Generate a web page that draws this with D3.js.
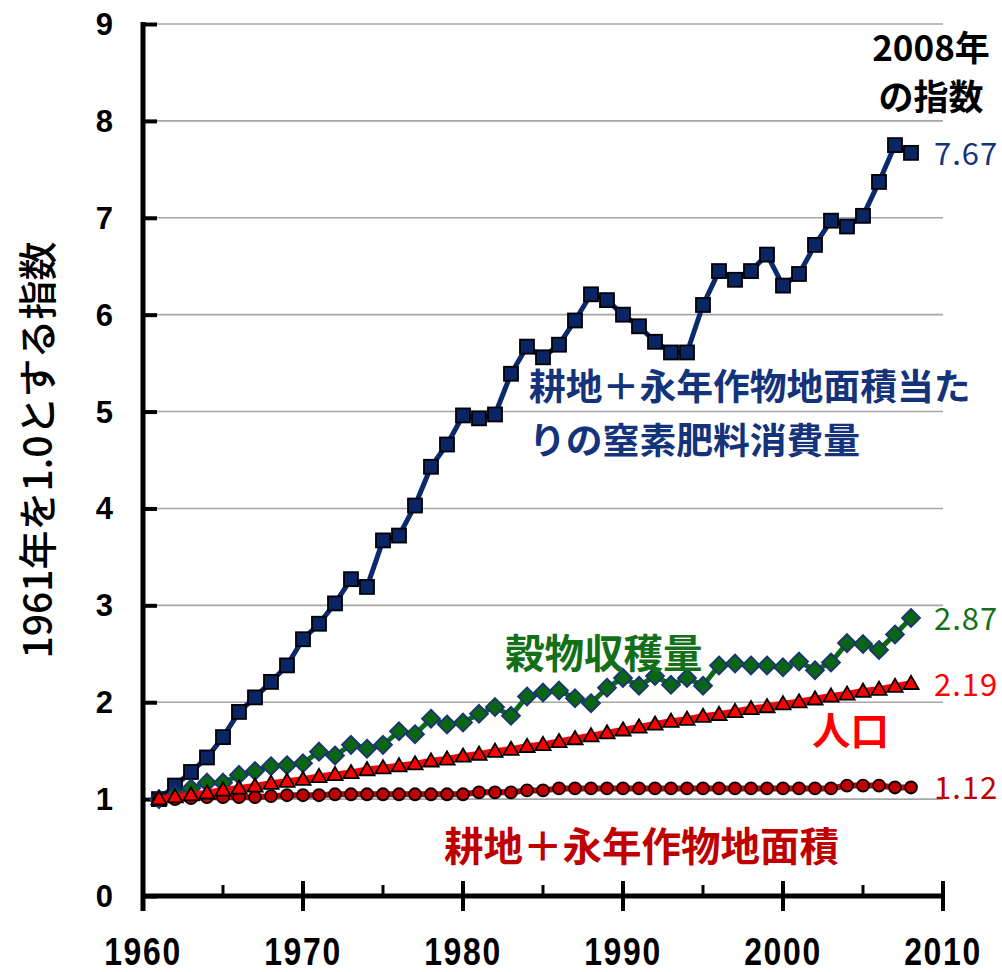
<!DOCTYPE html>
<html>
<head>
<meta charset="utf-8">
<script src="https://cdn.jsdelivr.net/npm/d3@7"></script>
<style>
  html, body { margin: 0; padding: 0; background: #fff; }
  svg { display: block; }
</style>
</head>
<body>
<svg id="chart" width="1002" height="972"></svg>
<script>
// Years 1961–2008
const years = [1961,1962,1963,1964,1965,1966,1967,1968,1969,1970,
  1971,1972,1973,1974,1975,1976,1977,1978,1979,1980,
  1981,1982,1983,1984,1985,1986,1987,1988,1989,1990,
  1991,1992,1993,1994,1995,1996,1997,1998,1999,2000,
  2001,2002,2003,2004,2005,2006,2007,2008];

// Nitrogen fertilizer use per area of arable land and permanent crops (1961 = 1.0)
const nitrogen = [1.00,1.14,1.28,1.43,1.64,1.90,2.05,2.21,2.38,2.65,
  2.81,3.02,3.27,3.19,3.67,3.72,4.03,4.43,4.66,4.96,
  4.93,4.97,5.39,5.67,5.56,5.69,5.94,6.21,6.15,6.00,
  5.88,5.72,5.61,5.61,6.10,6.45,6.36,6.45,6.62,6.30,
  6.42,6.72,6.97,6.91,7.02,7.37,7.75,7.67];

// Cereal production
const grain = [1.00,1.04,1.11,1.17,1.17,1.25,1.29,1.34,1.35,1.37,
  1.49,1.45,1.56,1.52,1.56,1.70,1.67,1.83,1.77,1.79,
  1.88,1.95,1.86,2.06,2.10,2.12,2.04,1.99,2.15,2.25,
  2.17,2.27,2.18,2.25,2.17,2.38,2.40,2.38,2.38,2.36,
  2.42,2.33,2.41,2.61,2.60,2.54,2.70,2.87];

// World population
const population = [1.00,1.02,1.04,1.06,1.09,1.11,1.13,1.16,1.18,1.20,
  1.23,1.25,1.27,1.30,1.32,1.34,1.36,1.39,1.41,1.44,
  1.46,1.49,1.51,1.54,1.56,1.59,1.62,1.65,1.68,1.71,
  1.74,1.77,1.80,1.82,1.85,1.87,1.90,1.93,1.95,1.98,
  2.00,2.03,2.06,2.08,2.11,2.13,2.16,2.19];

// Arable land and permanent crops area
const cropland = [1.00,1.00,1.01,1.02,1.02,1.02,1.02,1.03,1.04,1.04,
  1.04,1.05,1.05,1.05,1.05,1.05,1.05,1.05,1.05,1.05,
  1.07,1.07,1.07,1.09,1.09,1.11,1.11,1.11,1.11,1.11,
  1.11,1.11,1.11,1.11,1.11,1.11,1.11,1.11,1.11,1.11,
  1.11,1.11,1.11,1.14,1.14,1.14,1.12,1.12];

const yTicks = [0,1,2,3,4,5,6,7,8,9];
const xMajor = [1960,1970,1980,1990,2000,2010];
const xMinor = [1965,1975,1985,1995,2005];

const svg = d3.select("#chart");
const x = d3.scaleLinear().domain([1960, 2010]).range([143, 943]);
const y = d3.scaleLinear().domain([0, 9]).range([896, 24]);

const jp = "'Noto Sans CJK JP', 'Noto Sans', sans-serif";

// horizontal gridlines
svg.append("g").selectAll("line").data(yTicks.filter(d => d > 0)).join("line")
  .attr("x1", x(1960)).attr("x2", x(2010))
  .attr("y1", d => y(d)).attr("y2", d => y(d))
  .attr("stroke", "#a6a6a6").attr("stroke-width", 1.6);

// y axis
const yAxis = svg.append("g").attr("transform", `translate(${x(1960)},0)`)
  .call(d3.axisRight(y).tickValues(yTicks).tickSize(14).tickFormat(""));
yAxis.select(".domain").remove();
yAxis.selectAll(".tick line").attr("stroke", "#000").attr("stroke-width", 4);
svg.append("line").attr("x1", x(1960)).attr("x2", x(1960))
  .attr("y1", y(9) - 2).attr("y2", 911)
  .attr("stroke", "#000").attr("stroke-width", 5);

svg.append("g").selectAll("text").data(yTicks).join("text")
  .attr("x", 113).attr("y", d => y(d) + 11)
  .attr("text-anchor", "end")
  .attr("font-family", "'Liberation Sans', Arial, sans-serif")
  .attr("font-weight", "bold").attr("font-size", 31)
  .text(d => d);

// x axis
svg.append("line").attr("x1", x(1960)).attr("x2", x(2010))
  .attr("y1", y(0)).attr("y2", y(0))
  .attr("stroke", "#000").attr("stroke-width", 5);
svg.append("g").selectAll("line").data(xMajor).join("line")
  .attr("x1", d => x(d)).attr("x2", d => x(d))
  .attr("y1", y(0) - 15).attr("y2", y(0) + 15)
  .attr("stroke", "#000").attr("stroke-width", 4);
svg.append("g").selectAll("line").data(xMinor).join("line")
  .attr("x1", d => x(d)).attr("x2", d => x(d))
  .attr("y1", y(0) - 11).attr("y2", y(0))
  .attr("stroke", "#000").attr("stroke-width", 3);
svg.append("g").selectAll("text").data(xMajor).join("text")
  .attr("transform", d => `translate(${x(d)},965) scale(0.84,1)`)
  .attr("text-anchor", "middle")
  .attr("font-family", "'Liberation Sans', Arial, sans-serif")
  .attr("font-weight", "bold").attr("font-size", 38)
  .attr("letter-spacing", 2)
  .text(d => d);

// y axis title
svg.append("text")
  .attr("transform", "translate(52,450) rotate(-90)")
  .attr("text-anchor", "middle")
  .attr("font-family", jp).attr("font-weight", 500).attr("font-size", 39)
  .text("1961年を1.0とする指数");

// series
const series = [
  { vals: nitrogen, line: "#0b2a6e", lw: 5, shape: "square", fill: "#0a2464", stroke: "#000", size: 14 },
  { vals: grain, line: "#0a6a12", lw: 5, shape: "diamond", fill: "#0b6614", stroke: "#1c3276", size: 9 },
  { vals: cropland, line: "#c00000", lw: 6, shape: "circle", fill: "#c00000", stroke: "#000", size: 6 },
  { vals: population, line: "#ff0000", lw: 7, shape: "triangle", fill: "#ff0000", stroke: "#000", size: 8 }
];

const line = d3.line().x(d => x(d.year)).y(d => y(d.v));

series.forEach(s => {
  const pts = years.map((yr, i) => ({ year: yr, v: s.vals[i] }));
  svg.append("path").datum(pts)
    .attr("d", line).attr("fill", "none")
    .attr("stroke", s.line).attr("stroke-width", s.lw)
    .attr("stroke-linejoin", "round");
  const g = svg.append("g");
  pts.forEach(p => {
    const cx = x(p.year), cy = y(p.v), r = s.size;
    let el;
    if (s.shape === "square") {
      el = g.append("rect").attr("x", cx - r / 2).attr("y", cy - r / 2)
        .attr("width", r).attr("height", r);
    } else if (s.shape === "diamond") {
      el = g.append("path").attr("d",
        `M${cx},${cy - r}L${cx + r},${cy}L${cx},${cy + r}L${cx - r},${cy}Z`);
    } else if (s.shape === "circle") {
      el = g.append("circle").attr("cx", cx).attr("cy", cy).attr("r", r);
    } else {
      el = g.append("path").attr("d",
        `M${cx},${cy - r}L${cx + r * 0.95},${cy + r * 0.65}L${cx - r * 0.95},${cy + r * 0.65}Z`);
    }
    el.attr("fill", s.fill).attr("stroke", s.stroke).attr("stroke-width", 1.8);
  });
});

// end-of-series values
const endLabels = [
  { text: "7.67", v: nitrogen[nitrogen.length - 1], color: "#14337a" },
  { text: "2.87", v: grain[grain.length - 1], color: "#137018" },
  { text: "2.19", v: population[population.length - 1], color: "#ff0000" },
  { text: "1.12", v: cropland[cropland.length - 1], color: "#c00000" }
];
svg.append("g").selectAll("text").data(endLabels).join("text")
  .attr("x", 934).attr("y", d => y(d.v) + 12)
  .attr("font-family", jp).attr("font-size", 31)
  .attr("letter-spacing", 1)
  .attr("fill", d => d.color)
  .text(d => d.text);

// header above the end values
const hdr = svg.append("text").attr("font-family", jp).attr("font-weight", "bold")
  .attr("font-size", 35).attr("text-anchor", "middle").attr("fill", "#000");
hdr.append("tspan").attr("x", 931).attr("y", 61).text("2008年");
hdr.append("tspan").attr("x", 931).attr("y", 110).text("の指数");

// series names
const names = [
  { lines: ["耕地＋永年作物地面積当た", "りの窒素肥料消費量"], x: 529, y: 400, color: "#14337a", size: 36.8 },
  { lines: ["穀物収穫量"], x: 505, y: 668, color: "#137018", size: 39.5 },
  { lines: ["人口"], x: 812, y: 745, color: "#ff0000", size: 38.5 },
  { lines: ["耕地＋永年作物地面積"], x: 444, y: 861, color: "#c00000", size: 39.5 }
];
names.forEach(n => {
  const t = svg.append("text").attr("font-family", jp).attr("font-weight", "bold")
    .attr("font-size", n.size).attr("fill", n.color);
  n.lines.forEach((s, i) => {
    t.append("tspan").attr("x", n.x).attr("y", n.y + i * 54).text(s);
  });
});
</script>
</body>
</html>
